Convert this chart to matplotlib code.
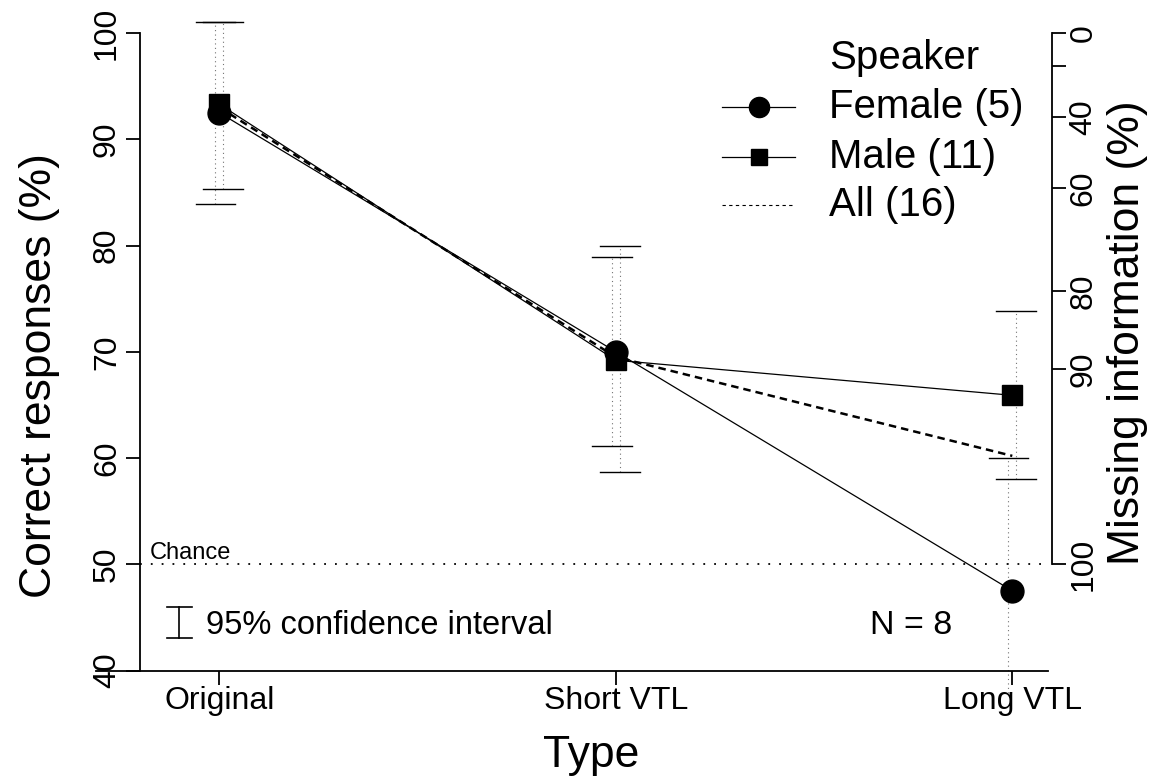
import matplotlib
matplotlib.use('Agg')
import matplotlib.pyplot as plt
import numpy as np

plt.rcParams['font.family'] = ['Liberation Sans', 'DejaVu Sans']

# data
types = ['Original', 'Short VTL', 'Long VTL']
female_mean = [92.5, 70.0, 47.5]
female_lo = [83.9, 61.1, 35.0]
female_hi = [101.0, 78.9, 60.0]
male_mean = [93.3, 69.2, 65.9]
male_lo = [85.3, 58.7, 58.0]
male_hi = [101.0, 80.0, 73.8]
all_mean = [93.0, 69.5, 60.2]
chance = 50
n_listeners = 8
missing_ticks = [0, 20, 40, 60, 80, 90, 100]
missing_labels = ['0', '', '40', '60', '80', '90', '100']

W, H = 1157, 780
def fx(x):
    return x / W
def fy(y):
    return 1 - y / H

fig = plt.figure(figsize=(W / 100, H / 100), dpi=100)
ax = fig.add_axes([fx(140), fy(696), fx(1091.6) - fx(140), fy(7.5) - fy(696)])
ax.set_xlim(0.8, 3.2)
ax.set_ylim(37.6, 102.4)

xs = np.arange(1, len(types) + 1)
off = 0.01
cap = 0.05

# error bars: dotted stems, solid caps
for x0, lo, hi in zip(xs - off, female_lo, female_hi):
    ax.plot([x0, x0], [lo, hi], color='0.45', lw=0.8, dashes=(1, 3))
    ax.plot([x0 - cap, x0 + cap], [lo, lo], color='black', lw=1.0)
    ax.plot([x0 - cap, x0 + cap], [hi, hi], color='black', lw=1.0)
for x0, lo, hi in zip(xs + off, male_lo, male_hi):
    ax.plot([x0, x0], [lo, hi], color='0.45', lw=0.8, dashes=(1, 3))
    ax.plot([x0 - cap, x0 + cap], [lo, lo], color='black', lw=1.0)
    ax.plot([x0 - cap, x0 + cap], [hi, hi], color='black', lw=1.0)

ax.plot(xs, all_mean, color='black', lw=1.8, dashes=(3, 2))
ax.plot(xs, female_mean, color='black', lw=0.9, marker='o', ms=16.5)
ax.plot(xs, male_mean, color='black', lw=0.9, marker='s', ms=14.5)

# chance line
ax.plot([0.8, 3.09], [chance, chance], color='black', lw=1.3, dashes=(1, 5))
ax.text(0.825, chance + 0.5, 'Chance', fontsize=17, ha='left', va='baseline')

# axes
for s in ['top', 'right']:
    ax.spines[s].set_visible(False)
ax.spines['left'].set_bounds(40, 100)
ax.spines['bottom'].set_position(('data', 40))
ax.spines['bottom'].set_bounds(0.69, 3.09)
for s in ['left', 'bottom']:
    ax.spines[s].set_linewidth(1.3)
ax.set_yticks(np.arange(40, 101, 10))
ax.set_yticklabels([str(v) for v in range(40, 101, 10)], rotation=90, va='center')
ax.set_xticks(xs)
ax.set_xticklabels(types)
ax.tick_params(axis='both', length=10, width=1.3, labelsize=23)
ax.tick_params(axis='y', pad=3)
ax.tick_params(axis='x', pad=1)

# right axis: missing information = binary entropy of proportion correct
ax2 = ax.twinx()
ax2.set_ylim(ax.get_ylim())
p = np.linspace(0.5, 1.0, 20001)
q = np.clip(1 - p, 1e-12, None)
h = -(p * np.log2(p) + q * np.log2(q))
h[-1] = 0
pos = np.interp(np.array(missing_ticks) / 100.0, h[::-1], p[::-1]) * 100
for s in ['top', 'left', 'bottom']:
    ax2.spines[s].set_visible(False)
ax2.spines['right'].set_position(('data', 3.1))
ax2.spines['right'].set_bounds(50, 100)
ax2.spines['right'].set_linewidth(1.3)
ax2.set_yticks(pos)
ax2.set_yticklabels(missing_labels, rotation=90, va='center')
ax2.tick_params(axis='y', length=10, width=1.3, labelsize=23, pad=2)

# CI key and N
ax.plot([fx(179), fx(179)], [fy(607), fy(638)], color='black', lw=1.2, transform=fig.transFigure)
ax.plot([fx(167), fx(192)], [fy(607), fy(607)], color='black', lw=1.2, transform=fig.transFigure)
ax.plot([fx(167), fx(192)], [fy(638), fy(638)], color='black', lw=1.2, transform=fig.transFigure)
fig.text(fx(206), fy(625), '95% confidence interval', fontsize=23.5, ha='left', va='center')
fig.text(fx(870), fy(625), f'N = {n_listeners}', fontsize=24.5, ha='left', va='center')

# legend
fig.text(fx(829), fy(58), 'Speaker', fontsize=29, ha='left', va='center')
leg = [('Female (5)', 'o', 14.5, 107, 'solid'),
       ('Male (11)', 's', 12.0, 157, 'solid'),
       ('All (16)', None, 0, 205, 'dashed')]
for lab, mk, msz, yy, ls in leg:
    if ls == 'solid':
        ax.plot([fx(722), fx(795)], [fy(yy), fy(yy)], color='black', lw=0.9, transform=fig.transFigure)
        ax.plot([fx(758.5)], [fy(yy)], color='black', marker=mk, ms=msz, transform=fig.transFigure)
    else:
        ax.plot([fx(722), fx(795)], [fy(yy), fy(yy)], color='black', lw=0.8, dashes=(3, 3), transform=fig.transFigure)
    fig.text(fx(829), fy(yy), lab, fontsize=29, ha='left', va='center')

# axis titles
fig.text(fx(591), fy(755), 'Type', fontsize=32, ha='center', va='center')
fig.text(fx(40), fy(376), 'Correct responses (%)', fontsize=32, ha='center', va='center', rotation=90)
fig.text(fx(1128), fy(333), 'Missing information (%)', fontsize=32, ha='center', va='center', rotation=90)

fig.savefig('out.png', dpi=100)
